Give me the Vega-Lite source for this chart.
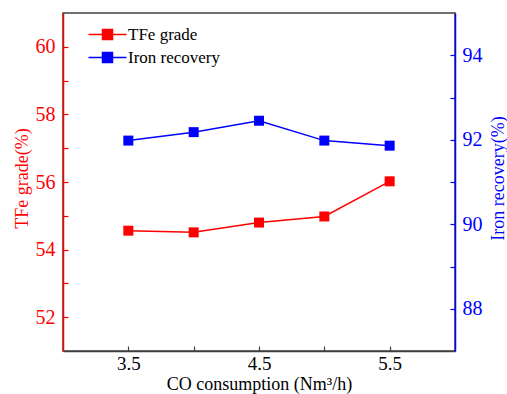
{
  "$schema": "https://vega.github.io/schema/vega-lite/v6.json",
  "width": 392,
  "height": 338,
  "autosize": {"type": "none"},
  "padding": {"left": 63, "top": 13, "right": 52, "bottom": 43},
  "background": "white",
  "config": {
    "view": {"stroke": "#404040", "strokeWidth": 1.5},
    "style": {
      "guide-label": {"font": "Liberation Serif", "fontSize": 20},
      "guide-title": {"font": "Liberation Serif", "fontSize": 18, "fontWeight": "normal"}
    },
    "axis": {
      "grid": false,
      "labelFont": "Liberation Serif",
      "titleFont": "Liberation Serif",
      "labelFontSize": 20,
      "titleFontSize": 18,
      "titleFontWeight": "normal",
      "tickSize": -5,
      "labelPadding": 13,
      "domainWidth": 1.5,
      "tickWidth": 1.2
    },
    "legend": {
      "labelFont": "Liberation Serif",
      "labelFontSize": 17
    }
  },
  "data": {
    "values": [
      {"CO": 3.5, "series": "TFe grade", "value": 54.56},
      {"CO": 4.0, "series": "TFe grade", "value": 54.51},
      {"CO": 4.5, "series": "TFe grade", "value": 54.80},
      {"CO": 5.0, "series": "TFe grade", "value": 54.98},
      {"CO": 5.5, "series": "TFe grade", "value": 56.02},
      {"CO": 3.5, "series": "Iron recovery", "value": 91.98},
      {"CO": 4.0, "series": "Iron recovery", "value": 92.18},
      {"CO": 4.5, "series": "Iron recovery", "value": 92.45},
      {"CO": 5.0, "series": "Iron recovery", "value": 91.98},
      {"CO": 5.5, "series": "Iron recovery", "value": 91.86}
    ]
  },
  "encoding": {
    "x": {
      "field": "CO",
      "type": "quantitative",
      "scale": {"domain": [3, 6], "nice": false, "zero": false},
      "axis": {
        "title": "CO consumption (Nm³/h)",
        "values": [3.5, 4, 4.5, 5, 5.5],
        "labelExpr": "datum.value == 4 || datum.value == 5 ? '' : format(datum.value, '.1f')",
        "labelFont": "Liberation Serif",
        "labelFontSize": 19,
        "domainColor": "#404040",
        "tickColor": "#404040",
        "labelColor": "black",
        "titleColor": "black",
        "labelPadding": 8,
        "titleBaseline": "middle",
        "titleY": 33
      }
    },
    "color": {
      "field": "series",
      "type": "nominal",
      "scale": {"domain": ["TFe grade", "Iron recovery"], "range": ["#ff0000", "#0000ff"]},
      "legend": {
        "title": null,
        "orient": "none",
        "legendX": 36,
        "legendY": 13,
        "symbolType": "M-3.8,0H3.8M-1,-1H1V1H-1Z",
        "symbolSize": 100,
        "symbolStrokeWidth": 1.5,
        "labelOffset": 12,
        "rowPadding": 5,
        "padding": 0,
        "labelFont": "Liberation Serif",
        "labelFontSize": 17,
        "encode": {
          "symbols": {
            "update": {
              "fill": {"scale": "color", "field": "value"},
              "stroke": {"scale": "color", "field": "value"},
              "opacity": {"value": 1}
            }
          }
        }
      }
    }
  },
  "layer": [
    {
      "transform": [{"filter": "datum.series == 'TFe grade'"}],
      "encoding": {
        "y": {
          "field": "value",
          "type": "quantitative",
          "scale": {"domain": [51, 61], "nice": false, "zero": false},
          "axis": {
            "title": "TFe grade(%)",
            "orient": "left",
            "values": [52, 53, 54, 55, 56, 57, 58, 59, 60],
            "labelExpr": "datum.value % 2 == 1 ? '' : datum.label",
            "labelFont": "Liberation Serif",
            "labelFontSize": 20,
            "domainColor": "#ff0000",
            "tickColor": "#ff0000",
            "labelColor": "#ff0000",
            "titleColor": "#ff0000",
            "titleAngle": 270,
            "titleBaseline": "middle",
            "titleX": -41,
            "titleY": 165
          }
        }
      },
      "layer": [
        {"mark": {"type": "line", "strokeWidth": 1.5}},
        {"mark": {"type": "point", "shape": "square", "filled": true, "size": 100, "opacity": 1}}
      ]
    },
    {
      "transform": [{"filter": "datum.series == 'Iron recovery'"}],
      "encoding": {
        "y": {
          "field": "value",
          "type": "quantitative",
          "scale": {"domain": [87, 95], "nice": false, "zero": false},
          "axis": {
            "title": "Iron recovery(%)",
            "orient": "right",
            "values": [88, 89, 90, 91, 92, 93, 94],
            "labelExpr": "datum.value % 2 == 1 ? '' : datum.label",
            "labelFont": "Liberation Serif",
            "labelFontSize": 20,
            "domainColor": "#0000ff",
            "tickColor": "#0000ff",
            "labelColor": "#0000ff",
            "titleColor": "#0000ff",
            "labelPadding": 12,
            "titleAngle": 270,
            "titleBaseline": "middle",
            "titleX": 43,
            "titleY": 165
          }
        }
      },
      "layer": [
        {"mark": {"type": "line", "strokeWidth": 1.5}},
        {"mark": {"type": "point", "shape": "square", "filled": true, "size": 100, "opacity": 1}}
      ]
    }
  ],
  "resolve": {"scale": {"y": "independent"}}
}
